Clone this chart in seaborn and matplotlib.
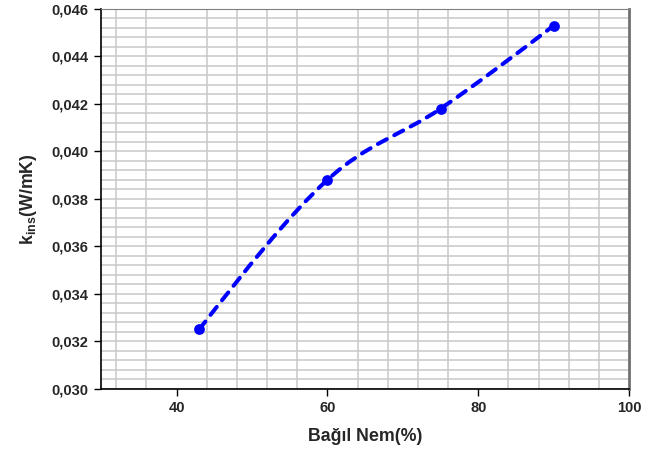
import numpy as np
import pandas as pd
import seaborn as sns
import matplotlib.pyplot as plt
from matplotlib.path import Path
from matplotlib.patches import PathPatch
from matplotlib.ticker import FuncFormatter, MultipleLocator

# relative humidity (%) vs insulation conductivity (W/mK)
nem = [43, 60, 75, 90]
k_ins = [0.0325, 0.0388, 0.0418, 0.0453]

df = pd.DataFrame({'nem': nem, 'k': k_ins})

sns.set_style('white')
plt.rcParams['font.family'] = ['Liberation Sans', 'DejaVu Sans']
plt.rcParams['mathtext.fontset'] = 'custom'
plt.rcParams['mathtext.rm'] = 'Liberation Sans:bold'
plt.rcParams['mathtext.it'] = 'Liberation Sans:bold'
plt.rcParams['mathtext.bf'] = 'Liberation Sans:bold'

fig = plt.figure(figsize=(6.65, 4.5), dpi=100)
ax = fig.add_axes([0.152, 0.136, 0.794, 0.844])

# smoothed dashed line through the points (hermite -> bezier, natural ends)
pts = df[['nem', 'k']].to_numpy()
n = len(pts)
tang = np.zeros_like(pts)
for i in range(1, n - 1):
    tang[i] = (pts[i + 1] - pts[i - 1]) / 2
tang[0] = (3 * (pts[1] - pts[0]) - tang[1]) / 2
tang[-1] = (3 * (pts[-1] - pts[-2]) - tang[-2]) / 2
verts = [tuple(pts[0])]
codes = [Path.MOVETO]
for i in range(n - 1):
    c1 = pts[i] + tang[i] / 3
    c2 = pts[i + 1] - tang[i + 1] / 3
    verts += [tuple(c1), tuple(c2), tuple(pts[i + 1])]
    codes += [Path.CURVE4] * 3
patch = PathPatch(Path(verts, codes), facecolor='none', edgecolor='#0000ff',
                  lw=2.9, linestyle=(0, (2.5, 2.1)), capstyle='round', zorder=3)
ax.add_patch(patch)

sns.scatterplot(data=df, x='nem', y='k', color='#0000ff', s=60,
                edgecolor='#0000ff', linewidth=0, zorder=4, ax=ax)

ax.set_xlim(30, 100)
ax.set_ylim(0.030, 0.046)
ax.set_xticks([40, 60, 80, 100])
ax.yaxis.set_major_locator(MultipleLocator(0.002))
ax.yaxis.set_minor_locator(MultipleLocator(0.0004))
ax.xaxis.set_minor_locator(plt.FixedLocator(np.arange(32, 100, 4)))
ax.grid(which='minor', color='#c8c8c8', lw=1.1)
ax.grid(which='major', axis='y', color='#c8c8c8', lw=1.1)
ax.set_axisbelow(True)

ax.yaxis.set_major_formatter(FuncFormatter(lambda v, p: f'{v:.3f}'.replace('.', ',')))
ax.tick_params(which='major', direction='out', length=5, width=1, color='black',
               labelsize=10.5, pad=4, left=True, bottom=True)
ax.tick_params(which='minor', length=0)
for lab in ax.get_xticklabels() + ax.get_yticklabels():
    lab.set_fontweight('bold')

for s in ['left', 'bottom']:
    ax.spines[s].set_color('black')
    ax.spines[s].set_linewidth(1.2)
ax.spines['top'].set_color('#808080')
ax.spines['right'].set_color('#707070')
ax.spines['right'].set_linewidth(2)

ax.set_xlabel('Bağıl Nem(%)', fontsize=12.8, fontweight='bold', labelpad=9)
ax.set_ylabel(r'k$_{\mathrm{ins}}$(W/mK)', fontsize=12.8, fontweight='bold', labelpad=9)

fig.savefig('out.png', dpi=100)
